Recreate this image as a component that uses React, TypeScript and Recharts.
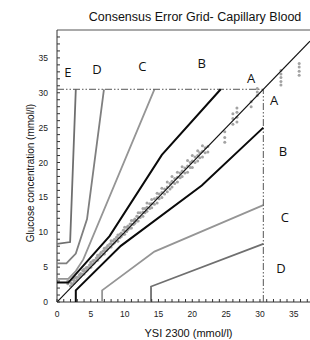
import React from 'react';
import { ComposedChart, Scatter, XAxis, YAxis, ReferenceLine } from 'recharts';

// Consensus (Parkes) error grid boundaries, mmol/l
const diagonal = [{ x: 0, y: 0 }, { x: 37.4, y: 37.4 }];
const aUpper = [{ x: 0, y: 2.78 }, { x: 1.67, y: 2.78 }, { x: 7.77, y: 9.44 }, { x: 15.5, y: 21.1 }, { x: 24.2, y: 30.5 }];
const aLower = [{ x: 2.78, y: 0 }, { x: 2.78, y: 1.67 }, { x: 9.44, y: 8.05 }, { x: 21.4, y: 16.7 }, { x: 30.5, y: 25.0 }];
const bUpper = [{ x: 0, y: 3.33 }, { x: 1.67, y: 3.33 }, { x: 2.78, y: 4.44 }, { x: 3.89, y: 6.11 }, { x: 14.4, y: 30.5 }];
const bLower = [{ x: 6.67, y: 0 }, { x: 6.67, y: 1.67 }, { x: 14.4, y: 7.22 }, { x: 30.5, y: 13.9 }];
const cUpper = [{ x: 0, y: 5.55 }, { x: 1.39, y: 5.55 }, { x: 2.78, y: 6.94 }, { x: 4.44, y: 11.9 }, { x: 6.94, y: 30.5 }];
const cLower = [{ x: 13.9, y: 0 }, { x: 13.9, y: 2.22 }, { x: 30.5, y: 8.33 }];
const dUpper = [{ x: 0, y: 8.33 }, { x: 1.94, y: 8.6 }, { x: 2.78, y: 30.5 }];
const limitH = [{ x: 0, y: 30.5 }, { x: 30.5, y: 30.5 }];
const limitV = [{ x: 30.5, y: 0 }, { x: 30.5, y: 30.5 }];

// Measurements: YSI reference vs meter
const ysiValues = [
  1.6, 1.6, 2.0, 2.0, 2.5, 2.5, 2.5, 3.0, 3.0, 3.5, 3.5, 4.0, 4.0, 4.0, 4.5, 4.5,
  5.0, 5.0, 5.0, 5.5, 5.5, 6.0, 6.0, 6.0, 6.5, 6.5, 7.0, 7.0, 7.0, 7.5, 7.5,
  8.0, 8.0, 8.0, 8.5, 8.5, 9.0, 9.0, 9.0, 9.5, 9.5, 10.0, 10.0, 10.0, 10.5, 10.5,
  11.0, 11.0, 11.0, 11.5, 11.5, 12.0, 12.0, 12.0, 12.7, 12.7, 12.7, 13.3, 13.3, 13.3,
  14.0, 14.0, 14.0, 14.8, 14.8, 14.8, 15.5, 15.5, 15.5, 16.3, 16.3, 16.3,
  17.0, 17.0, 17.0, 17.8, 17.8, 17.8, 18.5, 18.5, 18.5, 19.3, 19.3, 19.3,
  20.0, 20.0, 20.0, 20.8, 20.8, 20.8, 21.5, 21.5, 21.5, 22.3, 22.3,
  24.8, 24.8, 24.8, 26.0, 26.0, 26.0, 26.6, 26.6, 26.6, 26.6,
  28.7, 28.7, 29.6, 29.6, 29.6,
  33.1, 33.1, 33.1, 33.1, 33.1, 35.8, 35.8, 35.8, 35.8,
  2.2, 2.2, 2.8, 2.8, 3.3, 3.3, 3.8, 3.8, 4.3, 4.3, 4.8, 4.8, 5.3, 5.3, 5.8, 5.8,
  6.3, 6.3, 6.8, 6.8, 7.3, 7.3, 7.8, 7.8, 8.3, 8.3, 8.8, 8.8, 9.3, 9.3, 9.8, 9.8,
  10.3, 10.3, 10.8, 10.8, 11.3, 11.3, 11.8, 11.8, 12.3, 12.3, 13.0, 13.0, 13.7, 13.7,
  14.4, 14.4, 15.1, 15.1, 15.9, 15.9, 16.7, 16.7, 17.4, 17.4, 18.2, 18.2, 18.9, 18.9,
  19.7, 19.7, 20.4, 20.4, 21.1, 21.1, 21.9, 21.9,
];
const meterValues = [
  2.6, 3.0, 2.3, 2.8, 2.7, 3.1, 3.4, 3.2, 3.6, 3.7, 4.1, 4.0, 4.4, 4.7, 4.6, 5.0,
  5.0, 5.4, 5.7, 5.6, 6.0, 6.0, 6.4, 6.7, 6.6, 7.1, 6.9, 7.4, 7.7, 7.6, 8.1,
  7.9, 8.4, 8.8, 8.5, 9.0, 8.7, 9.2, 9.6, 9.4, 9.9, 9.7, 10.2, 10.7, 10.4, 10.9,
  10.6, 11.2, 11.7, 11.3, 11.9, 11.6, 12.2, 12.8, 12.3, 12.9, 13.4, 13.0, 13.6, 14.2,
  13.5, 14.1, 14.7, 14.2, 15.0, 15.6, 15.0, 15.7, 16.3, 15.8, 16.5, 17.2,
  16.5, 17.3, 18.0, 17.2, 17.9, 18.6, 18.0, 18.8, 19.4, 18.6, 19.5, 20.3,
  19.3, 20.2, 21.0, 20.2, 21.0, 21.7, 20.8, 21.6, 22.4, 21.5, 22.3,
  22.9, 23.6, 24.4, 25.5, 26.3, 27.0, 25.8, 26.5, 27.2, 27.8,
  28.0, 28.7, 29.6, 30.1, 30.6,
  31.1, 31.6, 32.2, 32.7, 33.2, 32.5, 33.1, 33.7, 34.2,
  2.6, 3.2, 3.0, 3.5, 3.5, 3.9, 4.0, 4.5, 4.4, 4.9, 4.9, 5.3, 5.4, 5.9, 5.9, 6.3,
  6.4, 6.8, 6.9, 7.3, 7.4, 7.8, 7.9, 8.3, 8.3, 8.8, 8.8, 9.3, 9.2, 9.7, 9.7, 10.3,
  10.1, 10.7, 10.6, 11.2, 11.1, 11.7, 11.6, 12.3, 12.1, 12.8, 12.8, 13.4, 13.4, 14.1,
  14.0, 14.8, 14.8, 15.5, 15.5, 16.2, 16.2, 17.0, 17.0, 17.7, 17.8, 18.5, 18.5, 19.2,
  19.3, 20.0, 20.0, 20.8, 20.7, 21.4, 21.4, 22.1,
];
const measurements = ysiValues.map((x, i) => ({ x, y: meterValues[i] }));

const zoneLabels = [
  { x: 1.6, y: 33.0, label: 'E' },
  { x: 5.9, y: 33.4, label: 'D' },
  { x: 12.6, y: 33.9, label: 'C' },
  { x: 21.4, y: 34.3, label: 'B' },
  { x: 28.7, y: 32.1, label: 'A' },
  { x: 32.1, y: 29.0, label: 'A' },
  { x: 33.4, y: 21.7, label: 'B' },
  { x: 33.7, y: 12.2, label: 'C' },
  { x: 33.1, y: 4.9, label: 'D' },
];

const xTicks = Array.from({ length: 38 }, (_, i) => i);
const yTicks = Array.from({ length: 39 }, (_, i) => i);

const TICK_FONT = '"Liberation Sans", Arial, sans-serif';

const Empty = () => <g />;

const XTick = (props: any) => {
  const { x, y, payload } = props;
  const v = payload.value;
  const major = v % 5 === 0;
  return (
    <g>
      <line x1={x} x2={x} y1={y} y2={y - 3} stroke="#333" strokeWidth={1} />
      {major && (
        <text x={x} y={y + 15} textAnchor="middle" fontSize={8.5} fill="#222" fontFamily={TICK_FONT}>
          {v}
        </text>
      )}
    </g>
  );
};

const YTick = (props: any) => {
  const { x, y, payload } = props;
  const v = payload.value;
  const major = v % 5 === 0;
  return (
    <g>
      <line x1={x} x2={x + 3} y1={y} y2={y} stroke="#333" strokeWidth={1} />
      {major && (
        <text x={x - 9} y={y + 3} textAnchor="end" fontSize={8.5} fill="#222" fontFamily={TICK_FONT}>
          {v}
        </text>
      )}
    </g>
  );
};

const ZoneLabel = (props: any) => (
  <text
    x={props.cx}
    y={props.cy}
    textAnchor="middle"
    dominantBaseline="central"
    fontSize={13}
    fill="#111"
    fontFamily='"Open Sans", sans-serif'
  >
    {props.payload.label}
  </text>
);

const Dot = (props: any) => <circle cx={props.cx} cy={props.cy} r={1.5} fill="#a3a3a3" />;

export default function App() {
  const lineSeries = [
    { data: cLower, stroke: '#6f6f6f', w: 1.8 },
    { data: bLower, stroke: '#959595', w: 1.8 },
    { data: dUpper, stroke: '#6f6f6f', w: 1.8 },
    { data: cUpper, stroke: '#7f7f7f', w: 1.8 },
    { data: bUpper, stroke: '#959595', w: 1.8 },
  ];
  return (
    <div
      style={{
        position: 'absolute',
        left: 0,
        top: 0,
        width: 310,
        height: 340,
        overflow: 'hidden',
        background: '#fff',
      }}
    >
      <div
        style={{
          position: 'absolute',
          left: 0,
          width: 390,
          textAlign: 'center',
          top: 10,
          fontSize: 12.5,
          fontFamily: TICK_FONT,
          color: '#111',
          whiteSpace: 'nowrap',
        }}
      >
        Consensus Error Grid- Capillary Blood
      </div>
      <ComposedChart width={310} height={340} margin={{ top: 30, right: 0, bottom: 0, left: 0 }}>
        <XAxis
          type="number"
          dataKey="x"
          domain={[0, 37.4]}
          ticks={xTicks}
          interval={0}
          tickSize={0}
          tickMargin={0}
          tick={XTick}
          height={38}
          stroke="#333"
          allowDataOverflow
          label={{
            content: (p: any) => {
              const vb = p.viewBox;
              return (
                <text x={vb.x + vb.width / 2 + 5} y={vb.y + 35} textAnchor="middle" fontSize={11} fill="#111" fontFamily={TICK_FONT}>
                  YSI 2300 (mmol/l)
                </text>
              );
            },
          }}
        />
        <YAxis
          type="number"
          dataKey="y"
          domain={[0, 39]}
          ticks={yTicks}
          interval={0}
          tickSize={0}
          tickMargin={0}
          tick={YTick}
          width={57}
          stroke="#333"
          allowDataOverflow
          label={{
            content: (p: any) => {
              const vb = p.viewBox;
              const cx = 30;
              const cy = vb.y + vb.height / 2 + 7;
              return (
                <text
                  x={cx}
                  y={cy}
                  transform={`rotate(-90 ${cx} ${cy})`}
                  textAnchor="middle"
                  dominantBaseline="central"
                  fontSize={10}
                  fill="#111"
                  fontFamily={TICK_FONT}
                >
                  Glucose concentration (mmol/l)
                </text>
              );
            },
          }}
        />
        <ReferenceLine y={39} stroke="#555" strokeWidth={1} />
        {lineSeries.map((s, i) => (
          <Scatter
            key={i}
            data={s.data}
            line={{ stroke: s.stroke, strokeWidth: s.w }}
            lineType="joint"
            shape={Empty}
            isAnimationActive={false}
          />
        ))}
        <Scatter
          data={limitH}
          line={{ stroke: '#555', strokeWidth: 1, strokeDasharray: '7 2 1.5 2 1.5 2' }}
          lineType="joint"
          shape={Empty}
          isAnimationActive={false}
        />
        <Scatter
          data={limitV}
          line={{ stroke: '#555', strokeWidth: 1, strokeDasharray: '7 2 1.5 2 1.5 2' }}
          lineType="joint"
          shape={Empty}
          isAnimationActive={false}
        />
        <Scatter data={measurements} shape={Dot} isAnimationActive={false} />
        <Scatter
          data={diagonal}
          line={{ stroke: '#111', strokeWidth: 1.2 }}
          lineType="joint"
          shape={Empty}
          isAnimationActive={false}
        />
        <Scatter data={aUpper} line={{ stroke: '#0a0a0a', strokeWidth: 2 }} lineType="joint" shape={Empty} isAnimationActive={false} />
        <Scatter data={aLower} line={{ stroke: '#0a0a0a', strokeWidth: 2 }} lineType="joint" shape={Empty} isAnimationActive={false} />
        <Scatter data={zoneLabels} shape={ZoneLabel} isAnimationActive={false} />
      </ComposedChart>
    </div>
  );
}
